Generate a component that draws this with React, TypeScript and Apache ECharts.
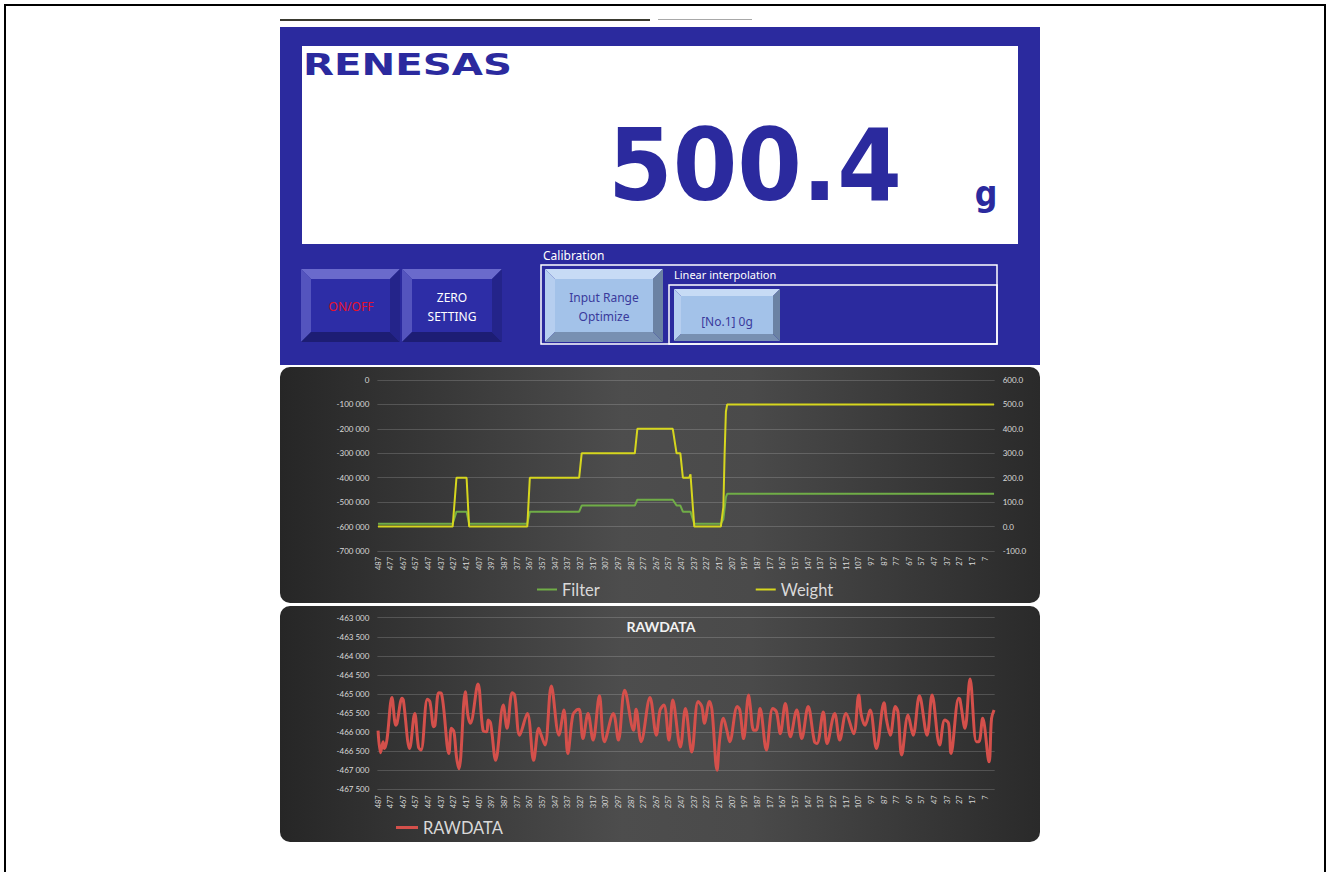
import React, { useEffect, useRef } from "react";
import * as echarts from "echarts";

// ---------- data ----------
const FIRST_SAMPLE = 487;
const SAMPLE_COUNT = 488;
const sampleLabels = Array.from({ length: SAMPLE_COUNT }, (_, i) => String(FIRST_SAMPLE - i));

// [position from left (0 = sample 487), value]
const filterData = [
  [0, -588000], [59, -588000], [62, -539000], [70, -539000], [72, -588000],
  [118, -588000], [120, -539000], [159, -539000], [161, -514000], [203, -514000],
  [205, -490000], [233, -490000], [236, -514000], [239, -514000], [241, -539000],
  [247, -539000], [250, -588000], [271, -588000], [273, -570000], [275, -480000],
  [276, -466000], [487, -466000],
];

const weightData = [
  [0, 0], [59, 0], [62, 200], [70, 200], [72, 0], [118, 0], [120, 200], [159, 200],
  [161, 300], [203, 300], [205, 400], [233, 400], [236, 300], [239, 300], [241, 200],
  [246, 200], [247, 214], [250, 0], [271, 0], [273, 80], [274, 300], [275, 470],
  [276, 500], [487, 500],
];

const rawData = [
  [0, -465960], [2, -466540], [4, -466250], [5, -466430], [7, -466210], [11, -465090],
  [14, -465820], [15, -465770], [19, -465110], [20, -465160], [25, -466430], [29, -465510],
  [32, -466400], [34, -466470], [39, -465140], [41, -465200], [44, -465860], [45, -465820],
  [48, -464970], [50, -464980], [56, -466560], [58, -465900], [60, -465990], [62, -466650],
  [64, -466960], [69, -464940], [71, -465550], [73, -465770], [79, -464740], [83, -465950],
  [86, -465990], [87, -465680], [89, -465770], [93, -466740], [99, -465290], [102, -465900],
  [106, -464970], [108, -465030], [112, -466080], [118, -465510], [123, -466740], [127, -465900],
  [129, -466080], [132, -466340], [137, -464790], [143, -466080], [147, -465420], [150, -466560],
  [154, -465550], [157, -465420], [159, -465400], [162, -466170], [166, -465510], [170, -466210],
  [175, -465050], [179, -466250], [186, -465510], [190, -466210], [195, -464900], [202, -465950],
  [204, -465400], [208, -466250], [215, -465090], [220, -466080], [223, -465420], [226, -465290],
  [230, -466210], [233, -465160], [239, -466390], [243, -465380], [248, -466520], [253, -465200],
  [256, -465330], [258, -465770], [262, -465200], [264, -465420], [268, -467000], [270, -466210],
  [273, -465640], [276, -465990], [278, -466250], [284, -465330], [286, -465420], [289, -466170],
  [293, -465030], [294, -465250], [297, -465950], [299, -465950], [302, -465380], [307, -466470],
  [312, -465380], [315, -465470], [318, -466040], [322, -465250], [326, -466120], [331, -465420],
  [335, -466170], [340, -465330], [345, -466250], [347, -466300], [352, -465470], [355, -466300],
  [361, -465510], [365, -466210], [370, -465510], [376, -466040], [380, -465030], [382, -465550],
  [385, -465820], [389, -465420], [394, -466430], [400, -465230], [402, -465680], [405, -466080],
  [409, -465330], [411, -465470], [414, -466600], [419, -465550], [423, -466080], [428, -465050],
  [434, -466080], [438, -465030], [444, -466340], [448, -465680], [451, -465770], [453, -466560],
  [459, -465110], [460, -465140], [464, -465900], [468, -464610], [473, -466250], [475, -466250],
  [478, -465640], [483, -466780], [485, -465640], [487, -465420],
];

const filterAxis = [-700000, 0, 100000]; // min, max, interval
const weightAxis = [-100, 600, 100];
const rawAxis = [-467500, -463000, 500];

const displayValue = "500.4";
const displayUnit = "g";

// ---------- helpers ----------
const LABEL_COLOR = "#D9D9D9";
const GRID_COLOR = "rgba(255,255,255,0.17)";

function thousands(v: number): string {
  const s = Math.abs(v).toString().replace(/\B(?=(\d{3})+(?!\d))/g, " ");
  return (v < 0 ? "-" : "") + s;
}

function txt(x: number, y: number, text: string, font: string, fill: string, align = "left", extra: any = {}) {
  return {
    type: "text",
    x,
    y,
    ...extra,
    style: {
      text,
      font,
      fill,
      align,
      textAlign: align,
      verticalAlign: "middle",
      textVerticalAlign: "middle",
    },
  };
}

function bevel(x: number, y: number, w: number, h: number, b: number, c: any) {
  return {
    type: "group",
    children: [
      { type: "polygon", shape: { points: [[x, y], [x + w, y], [x + w - b, y + b], [x + b, y + b]] }, style: { fill: c.top } },
      { type: "polygon", shape: { points: [[x, y], [x + b, y + b], [x + b, y + h - b], [x, y + h]] }, style: { fill: c.left } },
      { type: "polygon", shape: { points: [[x, y + h], [x + b, y + h - b], [x + w - b, y + h - b], [x + w, y + h]] }, style: { fill: c.bottom } },
      { type: "polygon", shape: { points: [[x + w, y], [x + w, y + h], [x + w - b, y + h - b], [x + w - b, y + b]] }, style: { fill: c.right } },
      { type: "rect", shape: { x: x + b, y: y + b, width: w - 2 * b, height: h - 2 * b }, style: { fill: c.face } },
    ],
  };
}

const PURPLE = { top: "#6A6ACC", left: "#5454BE", bottom: "#1D1D74", right: "#24248A", face: "#2D2DA6" };
const LIGHT = { top: "#C7DBF5", left: "#B6CEEF", bottom: "#7890B2", right: "#6B82A3", face: "#A3C2E9" };

const panelFill = () =>
  new echarts.graphic.LinearGradient(0, 0, 1, 0, [
    { offset: 0, color: "#262626" },
    { offset: 0.45, color: "#4D4D4D" },
    { offset: 0.62, color: "#4A4A4A" },
    { offset: 1, color: "#2A2A2A" },
  ]);

const BTN_FONT = "12px 'Noto Sans', sans-serif";

export default function App() {
  const ref = useRef<HTMLDivElement>(null);

  useEffect(() => {
    if (!ref.current) return;
    const chart = echarts.init(ref.current, undefined, { renderer: "svg" });

    const graphic: any[] = [
      // page frame and top lines
      { type: "rect", z: -10, shape: { x: 5, y: 5, width: 1320, height: 900 }, style: { fill: "none", stroke: "#000", lineWidth: 2 } },
      { type: "line", z: -10, shape: { x1: 280, y1: 20, x2: 650, y2: 20 }, style: { stroke: "#3A3A30", lineWidth: 2 } },
      { type: "line", z: -10, shape: { x1: 658, y1: 19.5, x2: 752, y2: 19.5 }, style: { stroke: "#A8A8A8", lineWidth: 1 } },
      // blue header panel
      { type: "rect", z: -10, shape: { x: 280, y: 27, width: 760, height: 338 }, style: { fill: "#2B2A9E" } },
      { type: "rect", z: -10, shape: { x: 302, y: 46, width: 716, height: 198 }, style: { fill: "#FFFFFF" } },
      txt(303, 64, "RENESAS", "bold 31px 'DejaVu Sans', sans-serif", "#2B2A9E", "left", { scaleX: 1.3, z: -9 }),
      txt(755, 165, displayValue, "bold 100px 'DejaVu Sans', sans-serif", "#2B2A9E", "center", { scaleX: 0.93, z: -9 }),
      txt(986, 194, displayUnit, "bold 36px 'DejaVu Sans', sans-serif", "#2B2A9E", "center", { scaleX: 0.88, z: -9 }),
      // buttons
      bevel(301, 269, 99, 73, 10, PURPLE),
      bevel(402, 269, 100, 73, 10, PURPLE),
      txt(351, 306, "ON/OFF", BTN_FONT, "#E8102A", "center"),
      txt(452, 297, "ZERO", BTN_FONT, "#FFFFFF", "center"),
      txt(452, 316, "SETTING", BTN_FONT, "#FFFFFF", "center"),
      txt(543, 255, "Calibration", BTN_FONT, "#FFFFFF", "left"),
      { type: "rect", shape: { x: 541, y: 265, width: 456, height: 79 }, style: { fill: "none", stroke: "#FFFFFF", lineWidth: 1.5 } },
      { type: "rect", shape: { x: 669, y: 285, width: 328, height: 59 }, style: { fill: "none", stroke: "#FFFFFF", lineWidth: 1.5 } },
      txt(674, 274, "Linear interpolation", "11px 'Noto Sans', sans-serif", "#FFFFFF", "left"),
      bevel(545, 269, 118, 73, 10, LIGHT),
      txt(604, 297, "Input Range", BTN_FONT, "#3A3A9C", "center"),
      txt(604, 316, "Optimize", BTN_FONT, "#3A3A9C", "center"),
      bevel(674, 289, 106, 52, 7, LIGHT),
      txt(727, 321, "[No.1] 0g", BTN_FONT, "#3A3A9C", "center"),
      // chart panels
      { type: "rect", z: -10, shape: { x: 280, y: 367, width: 760, height: 236, r: 10 }, style: { fill: panelFill() } },
      { type: "rect", z: -10, shape: { x: 280, y: 606, width: 760, height: 236, r: 10 }, style: { fill: panelFill() } },
      txt(661, 626, "RAWDATA", "bold 14px Lato, sans-serif", "#F2F2F2", "center"),
    ];

    const xCat = (gridIndex: number) => ({
      type: "category",
      gridIndex,
      data: sampleLabels,
      boundaryGap: true,
      axisLine: { show: false },
      axisTick: { show: false },
      splitLine: { show: false },
      axisLabel: {
        interval: 9,
        rotate: 90,
        fontSize: 7.5,
        color: LABEL_COLOR,
        fontFamily: "Lato, sans-serif",
        margin: 6,
      },
    });

    const yVal = (gridIndex: number, ax: number[], position: string, fmt: (v: number) => string, split: boolean) => ({
      type: "value",
      gridIndex,
      position,
      min: ax[0],
      max: ax[1],
      interval: ax[2],
      axisLine: { show: false },
      axisTick: { show: false },
      splitLine: { show: split, lineStyle: { color: GRID_COLOR, width: 1 } },
      axisLabel: { color: LABEL_COLOR, fontSize: 8, fontFamily: "Lato, sans-serif", margin: 8, formatter: fmt },
    });

    chart.setOption({
      animation: false,
      backgroundColor: "#FFFFFF",
      graphic,
      grid: [
        { left: 377.4, top: 380, width: 617.3, height: 171, outerBoundsMode: "none", containLabel: false },
        { left: 377.4, top: 617.7, width: 617.3, height: 171.6, outerBoundsMode: "none", containLabel: false },
      ],
      xAxis: [xCat(0), xCat(1)],
      yAxis: [
        yVal(0, filterAxis, "left", thousands, true),
        yVal(0, weightAxis, "right", (v: number) => v.toFixed(1), false),
        yVal(1, rawAxis, "left", thousands, true),
      ],
      legend: [
        {
          data: ["Filter", "Weight"],
          left: 532,
          top: 576,
          icon: "rect",
          itemWidth: 20,
          itemHeight: 2,
          itemGap: 156,
          textStyle: { color: LABEL_COLOR, fontSize: 16.5, fontFamily: "Lato, sans-serif" },
        },
        {
          data: ["RAWDATA"],
          left: 391,
          top: 814,
          icon: "rect",
          itemWidth: 22,
          itemHeight: 3,
          textStyle: { color: LABEL_COLOR, fontSize: 16.5, fontFamily: "Lato, sans-serif" },
        },
      ],
      series: [
        {
          name: "Filter",
          type: "line",
          xAxisIndex: 0,
          yAxisIndex: 0,
          data: filterData,
          showSymbol: false,
          symbol: "none",
          lineStyle: { color: "#70AD47", width: 2 },
          itemStyle: { color: "#70AD47" },
        },
        {
          name: "Weight",
          type: "line",
          xAxisIndex: 0,
          yAxisIndex: 1,
          data: weightData,
          showSymbol: false,
          symbol: "none",
          lineStyle: { color: "#D6D61E", width: 2 },
          itemStyle: { color: "#D6D61E" },
        },
        {
          name: "RAWDATA",
          type: "line",
          xAxisIndex: 1,
          yAxisIndex: 2,
          data: rawData,
          smooth: 0.35,
          showSymbol: false,
          symbol: "none",
          lineStyle: { color: "#D4504B", width: 3 },
          itemStyle: { color: "#D4504B" },
        },
      ],
    });

    return () => chart.dispose();
  }, []);

  return (
    <div
      ref={ref}
      style={{ position: "fixed", left: 0, top: 0, width: 1330, height: 872, background: "#fff" }}
    />
  );
}
